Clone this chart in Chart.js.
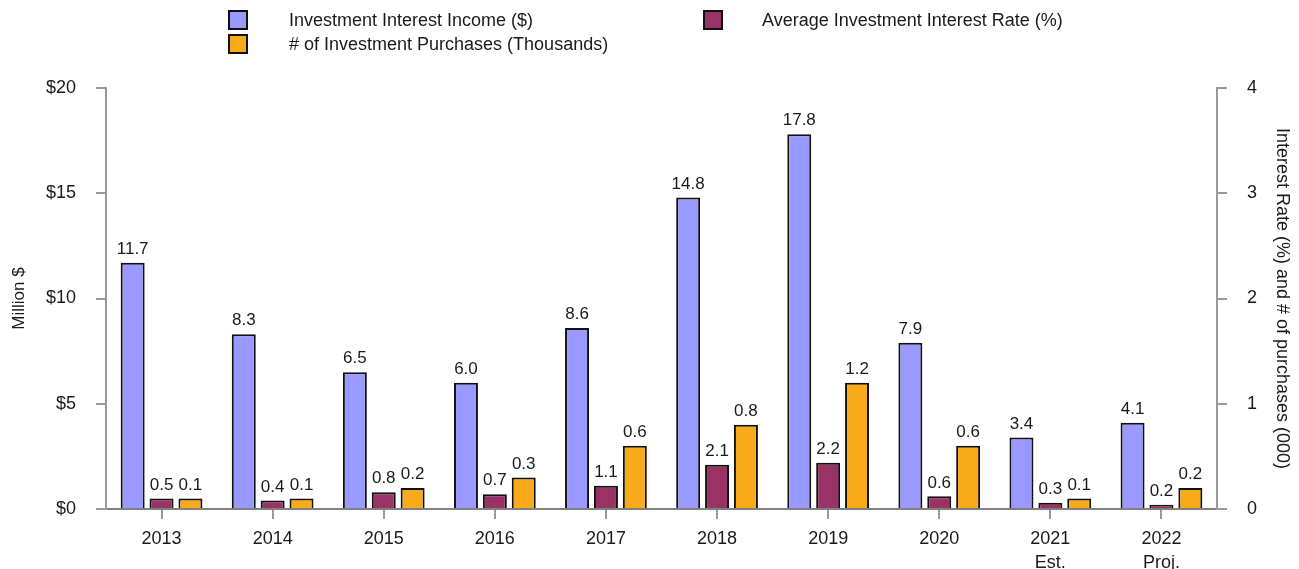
<!DOCTYPE html>
<html>
<head>
<meta charset="utf-8">
<script src="https://cdn.jsdelivr.net/npm/chart.js@4.4.1/dist/chart.umd.min.js"></script>
<style>
  html, body { margin: 0; padding: 0; background: #ffffff; }
  #wrap { width: 1299px; height: 569px; position: relative; }
</style>
</head>
<body>
<div id="wrap"><canvas id="chart"></canvas></div>
<script>
// Fiscal years shown on the category axis (second line marks estimates / projections)
const years = [['2013'], ['2014'], ['2015'], ['2016'], ['2017'], ['2018'], ['2019'], ['2020'], ['2021', 'Est.'], ['2022', 'Proj.']];

// Investment interest income, million $
const interestIncome = [11.7, 8.3, 6.5, 6.0, 8.6, 14.8, 17.8, 7.9, 3.4, 4.1];
// Average investment interest rate, %
const interestRate = [0.5, 0.4, 0.8, 0.7, 1.1, 2.1, 2.2, 0.6, 0.3, 0.2];
// Number of investment purchases, thousands
const purchases = [0.1, 0.1, 0.2, 0.3, 0.6, 0.8, 1.2, 0.6, 0.1, 0.2];

// Axis tick values
const leftTicks = [0, 5, 10, 15, 20];
const rightTicks = [0, 1, 2, 3, 4];

const FONT = '"Liberation Sans", Arial, Helvetica, sans-serif';
const TEXT = '#1a1a1a';
const AXIS_GREY = '#9a9a9a';

// Value labels above each bar
const valueLabels = {
  id: 'valueLabels',
  afterDatasetsDraw(chart) {
    const ctx = chart.ctx;
    ctx.save();
    ctx.font = '17px ' + FONT;
    ctx.fillStyle = TEXT;
    ctx.textAlign = 'center';
    ctx.textBaseline = 'bottom';
    chart.data.datasets.forEach((ds, i) => {
      const meta = chart.getDatasetMeta(i);
      meta.data.forEach((bar, j) => {
        ctx.fillText(ds.data[j].toFixed(1), bar.x, bar.y - 5);
      });
    });
    ctx.restore();
  }
};

// Two-column legend across the top
const topLegend = {
  id: 'topLegend',
  afterDraw(chart) {
    const ctx = chart.ctx;
    const slots = [
      { box: 229, text: 289, y: 20 },
      { box: 704, text: 762, y: 20 },
      { box: 229, text: 289, y: 44 }
    ];
    ctx.save();
    ctx.font = '18px ' + FONT;
    ctx.textBaseline = 'middle';
    ctx.textAlign = 'left';
    chart.data.datasets.forEach((ds, i) => {
      const s = slots[i];
      ctx.fillStyle = ds.backgroundColor;
      ctx.fillRect(s.box, s.y - 9, 18, 18);
      ctx.lineWidth = 2;
      ctx.strokeStyle = '#111111';
      ctx.strokeRect(s.box, s.y - 9, 18, 18);
      ctx.fillStyle = TEXT;
      ctx.fillText(ds.label, s.text, s.y + 1);
    });
    ctx.restore();
  }
};

const barStyle = { borderColor: '#111111', borderWidth: 2, borderSkipped: 'bottom', categoryPercentage: 0.78, barPercentage: 0.83 };

new Chart(document.getElementById('chart'), {
  type: 'bar',
  data: {
    labels: years,
    datasets: [
      Object.assign({ label: 'Investment Interest Income ($)', data: interestIncome, backgroundColor: '#9999ff', yAxisID: 'y' }, barStyle),
      Object.assign({ label: 'Average Investment Interest Rate (%)', data: interestRate, backgroundColor: '#993366', yAxisID: 'y' }, barStyle),
      Object.assign({ label: '# of Investment Purchases (Thousands)', data: purchases, backgroundColor: '#f8aa18', yAxisID: 'y2' }, barStyle)
    ]
  },
  options: {
    responsive: true,
    maintainAspectRatio: false,
    animation: false,
    layout: { padding: { top: 88, left: 0, right: 0, bottom: 0 } },
    plugins: {
      legend: { display: false },
      tooltip: { enabled: false }
    },
    scales: {
      x: {
        offset: true,
        grid: { display: true, drawOnChartArea: false, drawTicks: true, tickLength: 10, offset: false, color: AXIS_GREY, lineWidth: 2 },
        border: { display: true, color: '#808080', width: 2 },
        ticks: { color: TEXT, font: { family: FONT, size: 18, lineHeight: 1.35 }, padding: 8, maxRotation: 0, autoSkip: false },
        afterFit(scale) { scale.height = 60; }
      },
      y: {
        position: 'left',
        min: 0, max: 20,
        afterBuildTicks(scale) { scale.ticks = leftTicks.map(v => ({ value: v })); },
        grid: { drawOnChartArea: false, drawTicks: true, tickLength: 10, color: AXIS_GREY, lineWidth: 2 },
        border: { display: true, color: AXIS_GREY, width: 2 },
        ticks: { color: TEXT, font: { family: FONT, size: 18 }, padding: 20, callback: v => '$' + v },
        title: { display: true, text: 'Million $', color: TEXT, font: { family: FONT, size: 17 }, padding: { top: 9, bottom: 0 } },
        afterFit(scale) { scale.width = 106; }
      },
      y2: {
        position: 'right',
        min: 0, max: 4,
        afterBuildTicks(scale) { scale.ticks = rightTicks.map(v => ({ value: v })); },
        grid: { drawOnChartArea: false, drawTicks: true, tickLength: 10, color: AXIS_GREY, lineWidth: 2 },
        border: { display: true, color: AXIS_GREY, width: 2 },
        ticks: { color: TEXT, font: { family: FONT, size: 18 }, padding: 20 },
        title: { display: true, text: 'Interest Rate (%) and # of purchases (000)', color: TEXT, font: { family: FONT, size: 18 }, padding: { top: 6, bottom: 0 } },
        afterFit(scale) { scale.width = 82; }
      }
    }
  },
  plugins: [valueLabels, topLegend]
});
</script>
</body>
</html>
